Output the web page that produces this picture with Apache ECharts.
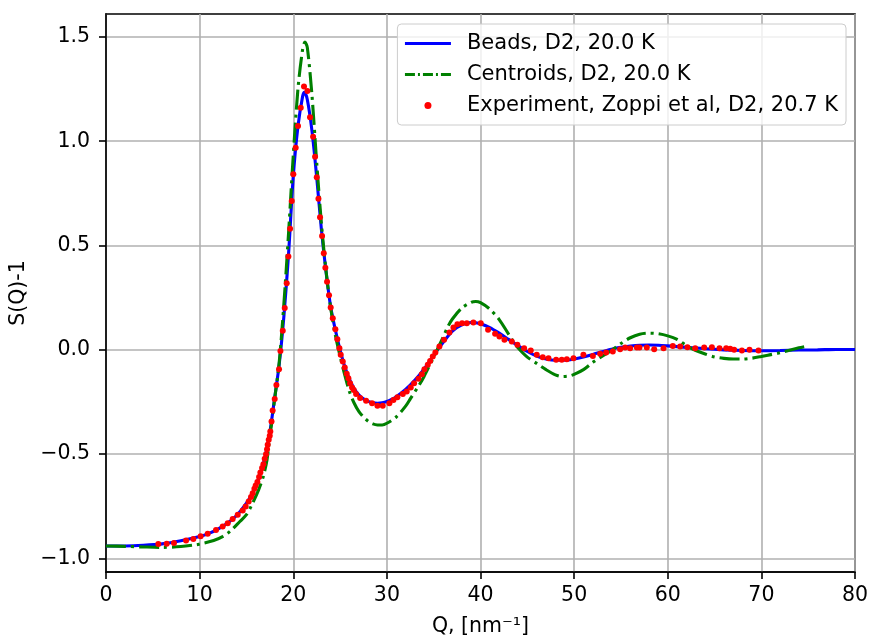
<!DOCTYPE html>
<html><head><meta charset="utf-8">
<script src="https://cdn.jsdelivr.net/npm/echarts@6/dist/echarts.min.js"></script>
<style>html,body{margin:0;padding:0;background:#fff}#c{width:872px;height:639px}</style>
</head><body><div id="c"></div>
<script>
const beadsQ = [0,2,4,6,8,10,11,12,13,14,15,15.5,16,16.5,17,17.5,18,18.5,19,19.5,20,20.5,21,21.2,21.5,22,22.5,23,23.5,24,24.5,25,25.5,26,26.5,27,27.5,28,28.5,29,29.5,30,30.5,31,32,33,34,35,36,37,38,39,39.5,40,41,42,43,44,45,46,47,48,49,50,51,52,53,54,55,56,57,58,59,60,62,64,66,68,70,72,74,76,78,80];
const beadsS = [-0.940,-0.940,-0.937,-0.930,-0.915,-0.895,-0.880,-0.858,-0.830,-0.792,-0.735,-0.700,-0.652,-0.590,-0.512,-0.395,-0.235,-0.07,0.16,0.46,0.83,1.07,1.215,1.235,1.2,1.05,0.83,0.58,0.375,0.205,0.095,0.0,-0.08,-0.14,-0.185,-0.215,-0.235,-0.247,-0.254,-0.256,-0.254,-0.248,-0.238,-0.225,-0.19,-0.145,-0.09,-0.025,0.035,0.09,0.12,0.131,0.13,0.125,0.107,0.08,0.05,0.02,-0.008,-0.03,-0.044,-0.05,-0.05,-0.044,-0.034,-0.022,-0.009,0.003,0.012,0.018,0.022,0.023,0.022,0.019,0.012,0.005,0.0,-0.003,-0.004,-0.003,-0.001,0.0,0.002,0.002];

const centQ = [0,2,4,6,8,9.7,10,11.5,12.5,13.25,14.3,15,15.5,16.3,16.8,17.2,17.45,17.7,18,18.5,19,19.5,20,20.5,21,21.25,21.5,22,22.5,23,23.5,24,24.5,25,25.5,26,26.5,27,27.5,28,28.5,29,29.5,30,31,32,32.5,33.5,34,35,36,36.5,37,38,39,39.5,40,41,42,43,43.5,44,45,46,47,48,48.7,49.5,50,51,52,53,54,55,56,57,58,59,60,61,62,63,64,65,66,67,68,69,70,71,72,73,74,75];
const centS = [-0.940,-0.942,-0.945,-0.947,-0.943,-0.934,-0.931,-0.914,-0.894,-0.870,-0.823,-0.790,-0.75,-0.671,-0.607,-0.527,-0.431,-0.351,-0.24,-0.06,0.22,0.56,0.93,1.25,1.44,1.475,1.45,1.22,0.9,0.61,0.38,0.2,0.07,-0.03,-0.12,-0.2,-0.255,-0.295,-0.322,-0.342,-0.355,-0.36,-0.36,-0.352,-0.322,-0.27,-0.235,-0.165,-0.125,-0.035,0.06,0.11,0.148,0.2,0.228,0.232,0.226,0.195,0.145,0.075,0.04,0.01,-0.035,-0.065,-0.095,-0.12,-0.128,-0.125,-0.118,-0.095,-0.06,-0.03,-0.003,0.03,0.058,0.075,0.08,0.077,0.067,0.05,0.02,-0.003,-0.02,-0.034,-0.041,-0.044,-0.044,-0.04,-0.032,-0.023,-0.014,-0.002,0.01,0.019];

const expQ = [5.59,6.48,7.26,8.55,9.33,10.11,10.86,11.75,12.46,13.0,13.53,14.07,14.6,14.92,15.24,15.49,15.67,15.85,15.99,16.17,16.35,16.49,16.67,16.81,16.95,17.09,17.2,17.27,17.38,17.49,17.55,17.68,17.8,18.02,18.2,18.48,18.63,18.88,19.09,19.3,19.48,19.66,19.84,20.01,20.26,20.51,20.8,21.15,21.51,21.79,22.12,22.33,22.51,22.69,22.86,23.08,23.26,23.43,23.61,23.82,24.0,24.22,24.5,24.71,24.93,25.07,25.29,25.5,25.71,25.89,26.07,26.28,26.46,26.71,27.14,27.78,28.42,28.99,29.56,30.27,30.7,31.12,31.7,32.12,32.55,32.91,33.37,33.73,34.01,34.37,34.62,34.9,35.18,35.61,36.11,36.68,37.11,37.53,38.03,38.54,39.24,40.03,40.81,41.56,42.02,42.56,43.34,43.94,44.66,45.37,46.01,46.65,47.26,48.08,48.68,49.22,49.93,50.99,52.0,52.78,53.42,54.13,54.91,55.45,55.98,56.7,56.98,57.76,58.55,59.55,60.54,61.32,62.1,62.93,63.89,64.71,65.53,66.24,66.67,67.09,67.92,68.73,69.69];
const expS = [-0.931,-0.930,-0.926,-0.914,-0.907,-0.894,-0.882,-0.864,-0.847,-0.831,-0.811,-0.791,-0.770,-0.751,-0.727,-0.706,-0.687,-0.666,-0.650,-0.634,-0.610,-0.588,-0.567,-0.548,-0.522,-0.500,-0.476,-0.455,-0.431,-0.412,-0.391,-0.343,-0.291,-0.236,-0.168,-0.093,-0.005,0.091,0.200,0.319,0.447,0.580,0.714,0.842,0.969,1.073,1.160,1.263,1.241,1.115,1.022,0.926,0.827,0.724,0.636,0.546,0.463,0.394,0.327,0.262,0.203,0.152,0.099,0.051,0.008,-0.024,-0.056,-0.085,-0.115,-0.136,-0.160,-0.181,-0.192,-0.212,-0.231,-0.244,-0.256,-0.268,-0.268,-0.256,-0.240,-0.227,-0.212,-0.200,-0.181,-0.160,-0.139,-0.117,-0.093,-0.072,-0.053,-0.032,-0.013,0.016,0.048,0.083,0.107,0.123,0.128,0.128,0.131,0.128,0.096,0.077,0.064,0.048,0.040,0.024,0.008,-0.003,-0.024,-0.035,-0.040,-0.048,-0.048,-0.045,-0.040,-0.024,-0.029,-0.019,-0.013,-0.008,0.003,0.011,0.008,0.011,0.011,0.011,0.003,0.008,0.019,0.016,0.013,0.008,0.011,0.013,0.008,0.008,0.005,0.0,-0.003,0.0,-0.003];

const xTicks = [0,10,20,30,40,50,60,70,80];
const yTicks = [-1.0,-0.5,0.0,0.5,1.0,1.5];
const names = ['Beads, D2, 20.0 K','Centroids, D2, 20.0 K','Experiment, Zoppi et al, D2, 20.7 K'];

const zip = (a,b)=>a.map((v,i)=>[v,b[i]]);
const FONT = 'DejaVu Sans';
const FS = 20.5;
const hiddenSym = {color:'rgba(0,0,0,0)',borderWidth:0,opacity:0};
const chart = echarts.init(document.getElementById('c'), null, {renderer:'canvas'});
chart.setOption({
  animation:false,
  backgroundColor:'#fff',
  textStyle:{fontFamily:FONT,color:'#000'},
  grid:{left:106,right:17,top:14,bottom:67,containLabel:false,outerBoundsMode:'none',
        show:true,borderColor:'#000',borderWidth:1.6,backgroundColor:'transparent'},
  legend:{
    orient:'vertical', right:26, top:24,
    data:[
      {name:names[0],itemStyle:hiddenSym,lineStyle:{width:3.1,color:'#0000ff'}},
      {name:names[1],itemStyle:hiddenSym,lineStyle:{width:3.1,color:'#008000',type:[10,3,2,3]}},
      {name:names[2],icon:'circle',itemStyle:{color:'#ff0000'}}
    ],
    itemWidth:46, itemHeight:7, itemGap:10,
    padding:[9,8,9,6],
    backgroundColor:'rgba(255,255,255,0.8)', borderColor:'#cccccc', borderWidth:1, borderRadius:4,
    textStyle:{fontFamily:FONT,fontSize:21,color:'#000',padding:[0,0,0,11]}
  },
  xAxis:{
    type:'value', min:0, max:80, interval:10,
    name:'Q, [nm⁻¹]', nameLocation:'middle', nameGap:44,
    nameTextStyle:{fontFamily:FONT,fontSize:FS,color:'#000'},
    axisLine:{show:true,onZero:false,lineStyle:{color:'#000',width:1.6}},
    axisTick:{show:true,inside:false,length:7,lineStyle:{color:'#000',width:1.6}},
    axisLabel:{fontFamily:FONT,fontSize:FS,color:'#000',margin:13,customValues:xTicks},
    splitLine:{show:true,lineStyle:{color:'#b0b0b0',width:1.6}}
  },
  yAxis:{
    type:'value', min:-1.065, max:1.61,
    name:'S(Q)-1', nameLocation:'middle', nameGap:74,
    nameTextStyle:{fontFamily:FONT,fontSize:FS,color:'#000'},
    axisLine:{show:true,onZero:false,lineStyle:{color:'#000',width:1.6}},
    axisTick:{show:true,inside:false,length:7,lineStyle:{color:'#000',width:1.6},customValues:yTicks},
    axisLabel:{fontFamily:FONT,fontSize:FS,color:'#000',margin:16,customValues:yTicks,
      formatter:v=>v.toFixed(1).replace('-','\u2212')},
    splitLine:{show:true,lineStyle:{color:'#b0b0b0',width:1.6}}
  },
  series:[
    {name:names[0],type:'line',data:zip(beadsQ,beadsS),symbol:'none',smooth:0.3,
     lineStyle:{color:'#0000ff',width:3.1},itemStyle:{color:'#0000ff'},z:2},
    {name:names[1],type:'line',data:zip(centQ,centS),symbol:'none',smooth:0.3,
     lineStyle:{color:'#008000',width:3.1,type:[20,5,3,5]},itemStyle:{color:'#008000'},z:3},
    {name:names[2],type:'scatter',data:zip(expQ,expS),symbol:'circle',symbolSize:6,
     itemStyle:{color:'#ff0000',opacity:1},z:4}
  ]
});
</script></body></html>
